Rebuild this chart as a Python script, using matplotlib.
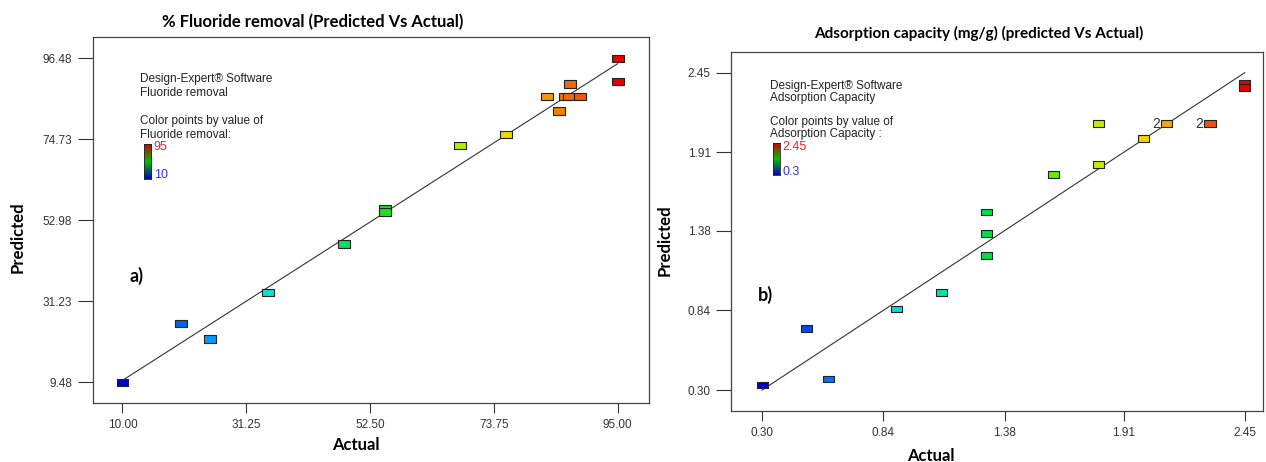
import numpy as np
import matplotlib
matplotlib.use("Agg")
import matplotlib.pyplot as plt
from matplotlib.path import Path
from matplotlib.colors import LinearSegmentedColormap

W, H = 1266, 462

# Panel a) % Fluoride removal
fl_actual = [10.0, 20.1, 25.0, 35.0, 48.0, 55.0, 55.0, 67.9, 75.9, 82.9, 84.9,
             85.9, 86.7, 88.5, 86.9, 95.0, 95.0]
fl_pred = [9.5, 25.3, 21.1, 33.6, 46.6, 56.2, 55.2, 73.0, 76.1, 86.3, 82.3,
           86.3, 86.3, 86.3, 89.6, 96.5, 90.3]
fl_ticks = [10.00, 31.25, 52.50, 73.75, 95.00]
fl_yticks = [9.48, 31.23, 52.98, 74.73, 96.48]
fl_range = [10, 95]

# Panel b) adsorption capacity (mg/g)
ac_actual = [0.30, 0.497, 0.597, 0.899, 1.099, 1.30, 1.30, 1.30, 1.598, 1.797,
             1.797, 1.997, 2.103, 2.295, 2.447, 2.447]
ac_pred = [0.334, 0.718, 0.375, 0.849, 0.962, 1.506, 1.359, 1.212, 1.759, 2.104,
           1.829, 2.005, 2.104, 2.104, 2.38, 2.35]
ac_ticks = [0.30, 0.84, 1.38, 1.91, 2.45]
ac_yticks = [0.30, 0.84, 1.38, 1.91, 2.45]
ac_range = [0.3, 2.45]
ac_repeat = [(2.103, 2.104), (2.295, 2.104)]

stops = [(0.0, (0, 0, 210)), (0.1, (0, 80, 235)), (0.18, (0, 160, 255)),
         (0.3, (0, 230, 215)), (0.4, (0, 230, 140)), (0.5, (0, 220, 40)),
         (0.62, (120, 235, 0)), (0.72, (215, 240, 0)), (0.79, (245, 210, 0)),
         (0.86, (245, 150, 0)), (0.93, (245, 80, 0)), (1.0, (230, 0, 0))]
de_cmap = LinearSegmentedColormap.from_list(
    "de", [(p, tuple(c / 255 for c in rgb)) for p, rgb in stops])
bar_cmap = LinearSegmentedColormap.from_list(
    "bar", [(0, 0, 0.75), (0, 0.75, 0), (0.8, 0, 0)])

rect = Path([(-1, -0.61), (1, -0.61), (1, 0.61), (-1, 0.61), (-1, -0.61)],
            [Path.MOVETO, Path.LINETO, Path.LINETO, Path.LINETO, Path.CLOSEPOLY])

narrow = ["Liberation Sans Narrow", "Liberation Sans", "DejaVu Sans"]
bold = ["Lato", "DejaVu Sans"]


def px(x, y):
    return x / W, 1 - y / H


def axes_box(x0, y0, x1, y1):
    return [x0 / W, 1 - y1 / H, (x1 - x0) / W, (y1 - y0) / H]


fig = plt.figure(figsize=(W / 100, H / 100), dpi=100)


def panel(box, actual, pred, vrange, xt, yt, xlim, ylim, msize):
    ax = fig.add_axes(box)
    ax.plot(vrange, vrange, color="#333333", lw=0.8, zorder=2)
    ax.scatter(actual, pred, c=actual, cmap=de_cmap, vmin=vrange[0], vmax=vrange[1],
               marker=rect, s=msize, edgecolors="#222222", linewidths=0.8, zorder=3)
    ax.set_xlim(xlim)
    ax.set_ylim(ylim)
    ax.set_xticks(xt)
    ax.set_xticklabels([f"{v:.2f}" for v in xt])
    ax.set_yticks(yt)
    ax.set_yticklabels([f"{v:.2f}" for v in yt])
    ax.tick_params(axis="x", direction="out", length=7.2, width=0.8, pad=4,
                   colors="#333333", labelsize=8.5)
    ax.tick_params(axis="y", direction="out", length=10.8, width=0.8, pad=4,
                   colors="#333333", labelsize=8.5)
    for lab in ax.get_xticklabels() + ax.get_yticklabels():
        lab.set_family(narrow)
    for s in ax.spines.values():
        s.set_color("#444444")
        s.set_linewidth(0.9)
    return ax


ax1 = panel(axes_box(92.5, 37.3, 649, 403.3), fl_actual, fl_pred, fl_range,
            fl_ticks, fl_yticks, (4.85, 100.4), (3.84, 102.1), 74)
ax2 = panel(axes_box(731.4, 52.3, 1263, 411.3), ac_actual, ac_pred, ac_range,
            ac_ticks, ac_yticks, (0.163, 2.531), (0.156, 2.588), 64)

for x, y in ac_repeat:
    ax2.annotate("2", (x, y), xytext=(-5, 0), textcoords="offset points",
                 ha="right", va="center", fontsize=10, family=narrow, color="#333333")

# titles and axis labels
fig.text(*px(313, 21.7), "% Fluoride removal (Predicted Vs Actual)", ha="center",
         va="center", fontsize=12, fontweight="bold", family=bold)
fig.text(*px(979, 33.3), "Adsorption capacity (mg/g) (predicted Vs Actual)",
         ha="center", va="center", fontsize=11, fontweight="bold", family=bold)
fig.text(*px(356, 445), "Actual", ha="center", va="center", fontsize=12,
         fontweight="bold", family=bold)
fig.text(*px(931, 456), "Actual", ha="center", va="center", fontsize=12,
         fontweight="bold", family=bold)
fig.text(*px(18, 237), "Predicted", ha="center", va="center", rotation=90,
         fontsize=12, fontweight="bold", family=bold)
fig.text(*px(665, 240), "Predicted", ha="center", va="center", rotation=90,
         fontsize=12, fontweight="bold", family=bold)
fig.text(*px(136, 276), "a)", ha="center", va="center", fontsize=13,
         fontweight="bold", family=bold)
fig.text(*px(765, 295), "b)", ha="center", va="center", fontsize=13,
         fontweight="bold", family=bold)

# Design-Expert legend blocks
legends = [
    (140, [79.3, 93.3, 120.7, 134.7],
     ["Design-Expert\u00ae Software", "Fluoride removal", "Color points by value of",
      "Fluoride removal:"], (143.5, 144, 150.7, 179), ("95", 147.3), ("10", 175), 153.6),
    (770.5, [86, 98.3, 122, 134.3],
     ["Design-Expert\u00ae Software", "Adsorption Capacity", "Color points by value of",
      "Adsorption Capacity :"], (773, 143.3, 779.7, 175), ("2.45", 146.7), ("0.3", 171.7), 782.5),
]
grad = np.linspace(0, 1, 100).reshape(-1, 1)
for tx, tys, lines, bar, hi, lo, lx in legends:
    for ty, line in zip(tys, lines):
        fig.text(*px(tx, ty), line, ha="left", va="center", fontsize=8.5,
                 family=narrow, color="#222222")
    cax = fig.add_axes(axes_box(*bar))
    cax.imshow(grad, cmap=bar_cmap, aspect="auto", origin="lower")
    cax.set_xticks([])
    cax.set_yticks([])
    for s in cax.spines.values():
        s.set_linewidth(0.6)
        s.set_color("#222222")
    fig.text(*px(lx, hi[1]), hi[0], ha="left", va="center", fontsize=9,
             family=narrow, color="#e8232a")
    fig.text(*px(lx, lo[1]), lo[0], ha="left", va="center", fontsize=9,
             family=narrow, color="#3333dd")

fig.savefig("out.png", dpi=100)
